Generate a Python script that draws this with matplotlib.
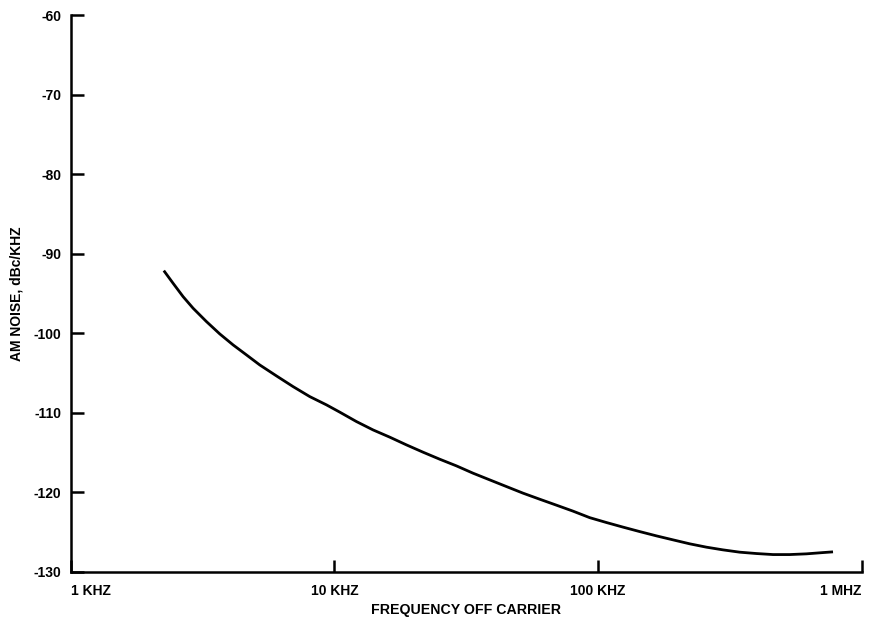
import matplotlib.pyplot as plt

plt.rcParams['font.family'] = ['Liberation Sans', 'DejaVu Sans']

# frequency off carrier (kHz) and AM noise (dBc/kHz)
freq_khz = [2.253, 2.443, 2.666, 2.910, 3.270, 3.673, 4.126, 4.638, 5.208,
            6.027, 6.966, 8.060, 9.327, 10.47, 12.12, 14.01, 16.21, 18.75,
            21.68, 25.07, 29.02, 33.55, 38.81, 44.91, 51.91, 60.04, 69.49,
            80.32, 92.94, 107.5, 124.3, 143.8, 166.4, 192.3, 222.6, 257.5,
            297.6, 344.4, 398.4, 460.6, 532.8, 616.6, 712.8, 777.9]
am_noise = [-92.13, -93.72, -95.40, -96.86, -98.54, -100.09, -101.47, -102.73,
            -103.99, -105.37, -106.71, -107.97, -109.01, -109.92, -111.11,
            -112.16, -113.07, -114.04, -114.96, -115.84, -116.68, -117.60,
            -118.44, -119.28, -120.11, -120.87, -121.62, -122.37, -123.19,
            -123.80, -124.38, -124.94, -125.48, -125.98, -126.48, -126.90,
            -127.24, -127.53, -127.70, -127.83, -127.83, -127.74, -127.58,
            -127.49]

x_ticks = [1, 10, 100, 1000]
x_labels = ['1 KHZ', '10 KHZ', '100 KHZ', '1 MHZ']
y_ticks = [-60, -70, -80, -90, -100, -110, -120, -130]

fig = plt.figure(figsize=(8.74, 6.27), dpi=100)
ax = fig.add_axes([0.081, 0.088, 0.905, 0.888])

ax.plot(freq_khz, am_noise, color='black', linewidth=2.0,
        solid_joinstyle='round', solid_capstyle='butt')

ax.set_xscale('log')
ax.set_xlim(1, 1000)
ax.set_ylim(-130, -60)

ax.set_xticks(x_ticks)
ax.set_xticklabels(x_labels, fontsize=10, fontweight='bold')
ax.minorticks_off()
ha = ['left', 'center', 'center', 'right']
for lab, h in zip(ax.get_xticklabels(), ha):
    lab.set_ha(h)

ax.set_yticks(y_ticks)
ax.set_yticklabels([str(v) for v in y_ticks], fontsize=10, fontweight='bold')

ax.tick_params(direction='in', length=9, width=1.8)
ax.tick_params(axis='x', pad=9)
ax.tick_params(axis='y', pad=7)

for side in ['top', 'right']:
    ax.spines[side].set_visible(False)
for side in ['left', 'bottom']:
    ax.spines[side].set_linewidth(1.8)

ax.set_xlabel('FREQUENCY OFF CARRIER', fontsize=10.2, fontweight='bold')
ax.set_ylabel('AM NOISE, dBc/KHZ', fontsize=10, fontweight='bold')
ax.xaxis.set_label_coords(0.5, -0.056)
ax.yaxis.set_label_coords(-0.06, 0.5)

fig.savefig('out.png', dpi=100)
